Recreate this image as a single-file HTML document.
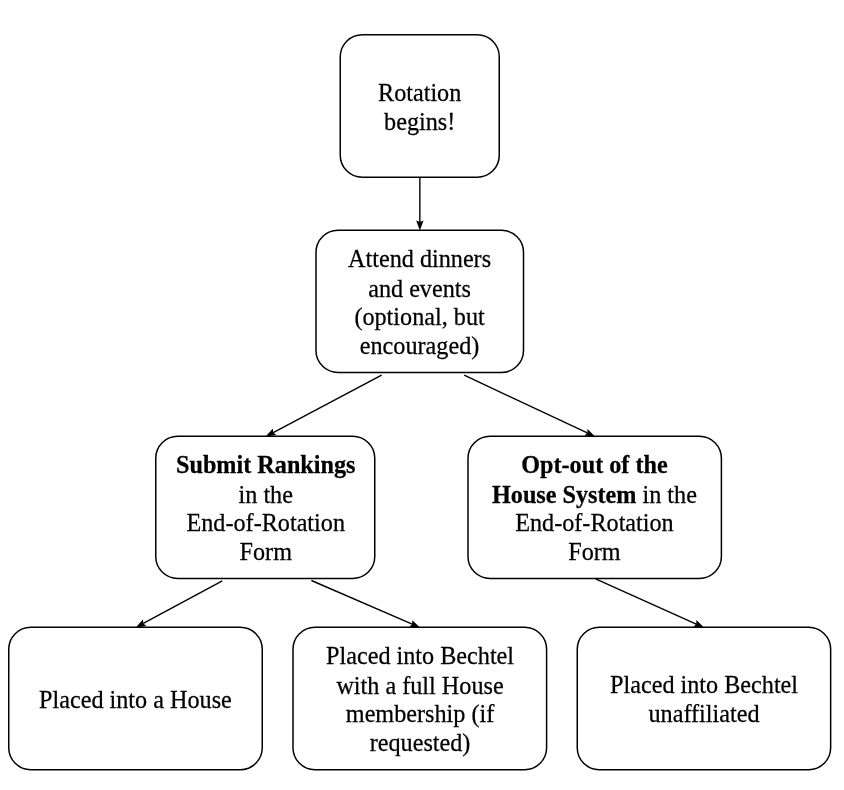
<!DOCTYPE html>
<html><head><meta charset="utf-8"><style>
html,body{margin:0;padding:0;background:#fff;}
body{width:844px;height:790px;position:relative;overflow:hidden;font-family:"Liberation Serif",serif;font-size:24.2px;line-height:26.67px;color:#000;}
svg{position:absolute;left:0;top:0;}
.bx{position:absolute;display:flex;align-items:center;justify-content:center;text-align:center;}
.tx{white-space:nowrap;transform:scaleY(1.08);position:relative;will-change:transform;-webkit-text-stroke:0.25px #000;}
</style></head><body>
<svg width="844" height="790" viewBox="0 0 844 790">
<rect x="340.25" y="34.75" width="159.00" height="142.50" rx="22" ry="22" fill="none" stroke="#000" stroke-width="1.5"/>
<rect x="316.0" y="230.25" width="207.50" height="142.25" rx="22" ry="22" fill="none" stroke="#000" stroke-width="1.5"/>
<rect x="155.75" y="436.25" width="219.00" height="142.25" rx="22" ry="22" fill="none" stroke="#000" stroke-width="1.5"/>
<rect x="468.0" y="436.25" width="253.40" height="142.25" rx="22" ry="22" fill="none" stroke="#000" stroke-width="1.5"/>
<rect x="8.75" y="627.25" width="253.50" height="142.50" rx="22" ry="22" fill="none" stroke="#000" stroke-width="1.5"/>
<rect x="293.0" y="627.25" width="253.60" height="142.50" rx="22" ry="22" fill="none" stroke="#000" stroke-width="1.5"/>
<rect x="577.25" y="627.25" width="253.40" height="142.50" rx="22" ry="22" fill="none" stroke="#000" stroke-width="1.5"/>
<line x1="419.85" y1="177.25" x2="419.85" y2="222.00" stroke="#000" stroke-width="1.4"/>
<polygon points="419.85,230.50 416.15,220.50 419.85,222.00 423.55,220.50" fill="#000"/>
<line x1="381.6" y1="375.1" x2="273.21" y2="432.52" stroke="#000" stroke-width="1.4"/>
<polygon points="265.70,436.50 272.80,428.55 273.21,432.52 276.27,435.09" fill="#000"/>
<line x1="464.2" y1="375.2" x2="587.30" y2="432.89" stroke="#000" stroke-width="1.4"/>
<polygon points="595.00,436.50 584.37,435.61 587.30,432.89 587.52,428.91" fill="#000"/>
<line x1="222.3" y1="580.8" x2="143.28" y2="623.46" stroke="#000" stroke-width="1.4"/>
<polygon points="135.80,627.50 142.84,619.49 143.28,623.46 146.36,626.01" fill="#000"/>
<line x1="311.4" y1="580.5" x2="412.20" y2="624.12" stroke="#000" stroke-width="1.4"/>
<polygon points="420.00,627.50 409.35,626.92 412.20,624.12 412.29,620.13" fill="#000"/>
<line x1="595.6" y1="578.8" x2="696.25" y2="624.02" stroke="#000" stroke-width="1.4"/>
<polygon points="704.00,627.50 693.36,626.78 696.25,624.02 696.39,620.03" fill="#000"/>
</svg>
<div class="bx" style="left:340.25px;top:34.75px;width:159.00px;height:142.50px"><div class="tx" style="left:0px;top:1px">Rotation<br>begins!</div></div>
<div class="bx" style="left:316.00px;top:230.25px;width:207.50px;height:142.25px"><div class="tx" style="left:0px;top:1px">Attend dinners<br>and events<br>(optional, but<br>encouraged)</div></div>
<div class="bx" style="left:155.75px;top:436.25px;width:219.00px;height:142.25px"><div class="tx" style="left:0px;top:1px"><b>Submit Rankings</b><br>in the<br>End-of-Rotation<br>Form</div></div>
<div class="bx" style="left:468.00px;top:436.25px;width:253.40px;height:142.25px"><div class="tx" style="left:0px;top:1px"><b>Opt-out of the<br>House System</b> in the<br>End-of-Rotation<br>Form</div></div>
<div class="bx" style="left:8.75px;top:627.25px;width:253.50px;height:142.50px"><div class="tx" style="left:0px;top:1px">Placed into a House</div></div>
<div class="bx" style="left:293.00px;top:627.25px;width:253.60px;height:142.50px"><div class="tx" style="left:0px;top:1px">Placed into Bechtel<br>with a full House<br>membership (if<br>requested)</div></div>
<div class="bx" style="left:577.25px;top:627.25px;width:253.40px;height:142.50px"><div class="tx" style="left:0.5px;top:0px">Placed into Bechtel<br>unaffiliated</div></div>
</body></html>
